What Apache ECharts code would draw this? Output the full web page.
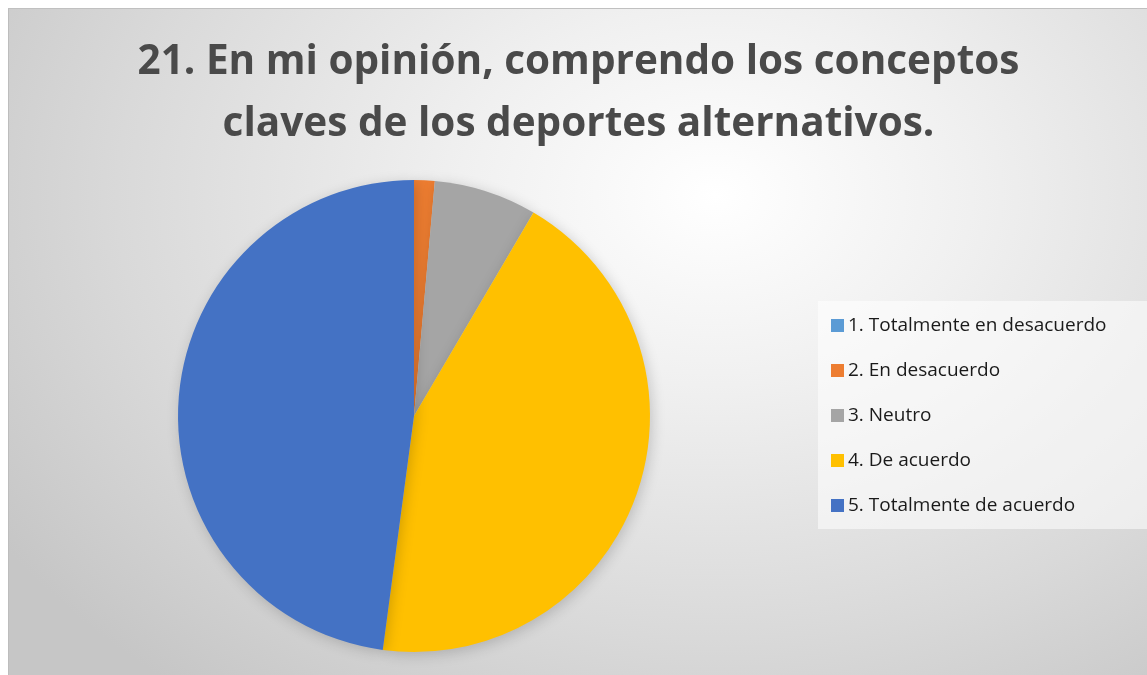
<!DOCTYPE html>
<html>
<head>
    <meta charset="utf-8">
    <title>21. En mi opinión</title>
    <script src="https://cdn.jsdelivr.net/npm/echarts@6/dist/echarts.min.js"></script>
    <style>
        html, body { margin: 0; padding: 0; background: #fff; }
        #frame {
            position: absolute; left: 8px; top: 8px; width: 1139px; height: 666px;
            background: radial-gradient(ellipse 75% 95% at 62% 28%, #ffffff 0%, #f0f0f0 30%, #d9d9d9 70%, #c6c6c6 100%);
            border-top: 1px solid #c0c0c0; border-left: 1px solid #bdbdbd;
        }
        #main { width: 100%; height: 100%; }
    </style>
</head>
<body>
    <div id="frame"><div id="main"></div></div>
    <script>
        var categories = ['1. Totalmente en desacuerdo', '2. En desacuerdo', '3. Neutro', '4. De acuerdo', '5. Totalmente de acuerdo'];
        var values = [0, 1, 5, 31, 34];
        var colors = ['#5B9BD5', '#ED7D31', '#A5A5A5', '#FFC000', '#4472C4'];

        var chart = echarts.init(document.getElementById('main'));

        var pieData = categories.map(function (name, i) {
            return { name: name, value: values[i], itemStyle: { color: colors[i] } };
        });

        var option = {
            backgroundColor: 'transparent',
            title: {
                text: '21. En mi opinión, comprendo los conceptos\nclaves de los deportes alternativos.',
                left: 'center',
                top: 17,
                textStyle: {
                    fontFamily: 'Open Sans',
                    fontWeight: 'bold',
                    fontSize: 40.5,
                    lineHeight: 62,
                    color: '#4a4a4a'
                }
            },
            legend: {
                orient: 'vertical',
                left: 809,
                top: 292,
                itemWidth: 13,
                itemHeight: 13,
                itemGap: 26,
                icon: 'rect',
                padding: [15, 60, 14, 13],
                backgroundColor: 'rgba(255,255,255,0.55)',
                textStyle: { fontFamily: 'Open Sans', fontSize: 19, color: '#1a1a1a', padding: [0, 0, 0, -1] },
                data: categories
            },
            series: [{
                type: 'pie',
                center: [405, 407],
                radius: 236,
                startAngle: 90,
                clockwise: true,
                label: { show: false },
                labelLine: { show: false },
                emphasis: { disabled: true },
                itemStyle: {
                    shadowBlur: 14,
                    shadowColor: 'rgba(0,0,0,0.18)',
                    shadowOffsetX: 2,
                    shadowOffsetY: 3
                },
                data: pieData
            }]
        };

        chart.setOption(option);
    </script>
</body>
</html>
